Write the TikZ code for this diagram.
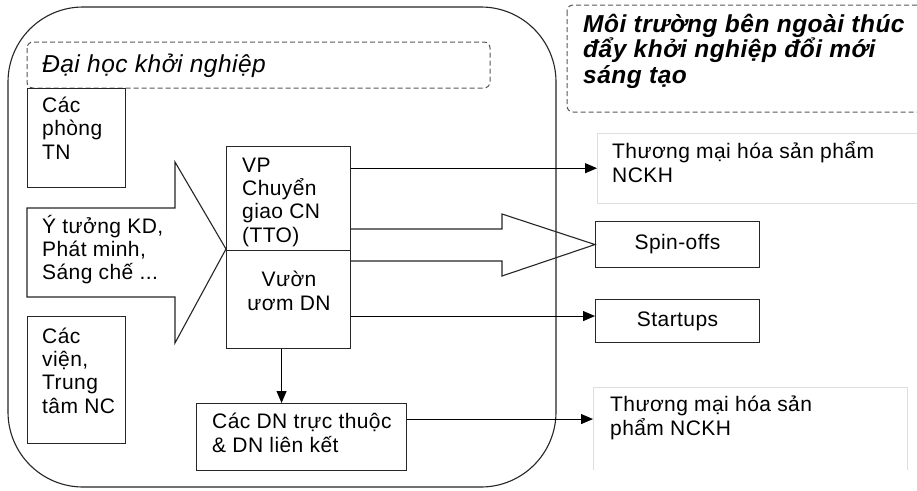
\documentclass[tikz,border=0pt]{standalone}
\usepackage{fontspec}
\setmainfont[LetterSpace=2]{Liberation Sans}
\usetikzlibrary{arrows.meta}
\begin{document}
\begin{tikzpicture}[x=1pt,y=-1pt,
  txt/.style={anchor=base west, inner sep=0pt, align=left, font=\fontsize{21}{23.3}\selectfont},
  ctxt/.style={txt, anchor=base, align=center},
  box/.style={draw=black!85, line width=1.1pt, anchor=north west, inner sep=0pt},
  ghost/.style={anchor=north west, inner sep=0pt},
  dashbox/.style={draw=black!65, line width=1pt, dash pattern=on 5pt off 3pt, rounded corners=6pt},
  lightbox/.style={draw=black!13, line width=1pt},
  arr/.style={draw=black, line width=1.1pt, -{Triangle[length=12pt,width=10pt]}},
  blockarrow/.style={draw=black!85, line width=1.1pt, line join=miter}
]
\clip (0,0) rectangle (917,490);
\fill[white] (0,0) rectangle (917,490);

% main rounded container
\draw[draw=black!85, line width=1.1pt, rounded corners=75pt] (8,7) rectangle (556,487);

% dashed title boxes (multi-line nodes are anchored at the baseline of their last line)
\draw[dashbox] (27,42) rectangle (490,88);
\node[txt, font=\fontsize{24.5}{26}\selectfont\itshape] (tdh) at (42,72) {Đại học khởi nghiệp};
\draw[dashbox] (567,5) rectangle (930,112);
\node[txt, font=\fontsize{24.5}{25.5}\selectfont\bfseries\itshape] (tenv) at (583,83) {Môi trường bên ngoài thúc\\đẩy khởi nghiệp đổi mới\\sáng tạo};

% left boxes
\node[box, minimum width=98pt, minimum height=99pt] (tn) at (27,88) {};
\node[txt] (ttn) at (42,159) {Các\\phòng\\TN};
\node[box, minimum width=98pt, minimum height=127pt] (vien) at (27,316) {};
\node[txt] (tvien) at (42,413) {Các\\viện,\\Trung\\tâm NC};

% big input arrow
\draw[blockarrow] (27,208) -- (175,208) -- (175,162) -- (226,249) -- (175,343) -- (175,297) -- (27,297) -- cycle;
\node[txt, font=\fontsize{21}{23}\selectfont] (tidea) at (42,279) {Ý tưởng KD,\\Phát minh,\\Sáng chế ...};

% TTO and incubator
\node[box, minimum width=124pt, minimum height=104pt] (vp) at (226,146) {};
\node[txt] (tvp) at (242,242) {VP\\Chuyển\\giao CN\\(TTO)};
\node[box, minimum width=124pt, minimum height=98pt] (vu) at (226,250) {};
\node[ctxt] (tvu) at (289,310) {Vườn\\ươm DN};

% affiliated firms
\node[box, minimum width=210pt, minimum height=67pt] (dn) at (196,403) {};
\node[txt] (tdn) at (212,452) {Các DN trực thuộc\\\& DN liên kết};

% outputs
\node[ghost, minimum width=330pt, minimum height=70pt] (tm1) at (597,133) {};
\draw[lightbox] (tm1.south east) -- (tm1.south west) -- (tm1.north west) -- (tm1.north east);
\node[txt] (ttm1) at (612,182) {Thương mại hóa sản phẩm\\NCKH};

\node[box, minimum width=164pt, minimum height=46pt] (spin) at (595,221) {};
\node[txt, anchor=center] (tspin) at (spin.center) {Spin-offs};

\node[box, minimum width=164pt, minimum height=43pt] (st) at (595,299) {};
\node[txt, anchor=center] (tst) at (st.center) {Startups};

\node[ghost, minimum width=314pt, minimum height=83pt] (tm2) at (593,387) {};
\draw[lightbox] (tm2.south west) -- (tm2.north west) -- (tm2.north east) -- (tm2.south east);
\node[txt] (ttm2) at (610,435) {Thương mại hóa sản\\phẩm NCKH};

% connectors
\draw[arr] (vp.east |- tm1.west) -- (tm1.west);
\draw[blockarrow] (350,229) -- (502,229) -- (502,214) -- (spin.west) -- (502,276) -- (502,261) -- (350,261);
\draw[arr] ([yshift=5pt]vu.east |- st.west) -- ([yshift=5pt]st.west);
\draw[arr] ([yshift=18pt]dn.east) -- ([yshift=18pt]dn.east -| tm2.west);
\draw[arr] ([xshift=-7pt]vu.south) -- ([xshift=-7pt]vu.south |- dn.north);
\end{tikzpicture}
\end{document}
